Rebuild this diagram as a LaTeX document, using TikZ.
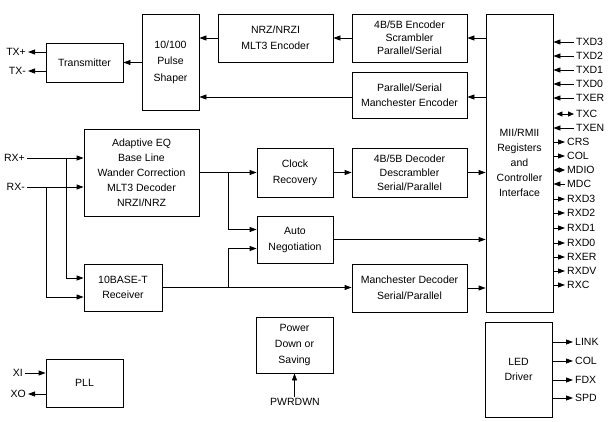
\documentclass[tikz,border=0pt]{standalone}
\usepackage{fontspec}
\setmainfont{Liberation Sans}
\usetikzlibrary{arrows.meta}
\begin{document}
\begin{tikzpicture}[x=1pt,y=-1pt,
  font=\fontsize{10.5}{15}\selectfont,
  box/.style={draw, line width=0.8pt, align=center, inner sep=0pt},
  arr/.style={line width=0.8pt, -{Triangle[length=7pt,width=5pt]}},
  darr/.style={line width=0.8pt, {Triangle[length=6pt,width=5pt]}-{Triangle[length=6pt,width=5pt]}},
  wire/.style={line width=0.8pt},
  lbl/.style={inner xsep=2pt, inner ysep=1pt}]
\useasboundingbox (0,0) rectangle (611,421);

% boxes
\node[box, minimum width=77pt, minimum height=39pt] (tx) at (84.5,62.5) {Transmitter};
\node[box, minimum width=57pt, minimum height=96pt, font=\fontsize{10.5}{16.5}\selectfont] (ps) at (170.5,62) {10/100\\Pulse\\Shaper};
\node[box, minimum width=115pt, minimum height=48pt, font=\fontsize{10.5}{16}\selectfont] (nrz) at (275.5,38) {NRZ/NRZI\\MLT3 Encoder};
\node[box, minimum width=115pt, minimum height=48pt, font=\fontsize{10.5}{13}\selectfont] (enc) at (409.5,38) {4B/5B Encoder\\Scrambler\\Parallel/Serial};
\node[box, minimum width=115pt, minimum height=46pt] (menc) at (409.5,95) {Parallel/Serial\\Manchester Encoder};
\node[box, minimum width=67pt, minimum height=298pt] (mii) at (519.5,163) {MII/RMII\\Registers\\and\\Controller\\Interface};
\node[box, minimum width=115pt, minimum height=87pt] (eq) at (141.5,172.5) {Adaptive EQ\\Base Line\\Wander Correction\\MLT3 Decoder\\NRZI/NRZ};
\node[box, minimum width=76pt, minimum height=49pt, font=\fontsize{10.5}{16}\selectfont] (cr) at (295,172.5) {Clock\\Recovery};
\node[box, minimum width=115pt, minimum height=49pt, font=\fontsize{10.5}{14}\selectfont] (dec) at (409.5,172.5) {4B/5B Decoder\\Descrambler\\Serial/Parallel};
\node[box, minimum width=76pt, minimum height=47pt, font=\fontsize{10.5}{16}\selectfont] (an) at (295,239.5) {Auto\\Negotiation};
\node[box, minimum width=78pt, minimum height=47pt] (bt) at (123,287.5) {10BASE-T\\Receiver};
\node[box, minimum width=115pt, minimum height=48pt, font=\fontsize{10.5}{16}\selectfont] (mdec) at (409.5,288) {Manchester Decoder\\Serial/Parallel};
\node[box, minimum width=77pt, minimum height=56pt, font=\fontsize{10.5}{16}\selectfont] (pd) at (294.5,345) {Power\\Down or\\Saving};
\node[box, minimum width=77pt, minimum height=48pt] (pll) at (84.5,383) {PLL};
\node[box, minimum width=67pt, minimum height=95pt] (led) at (518.5,369.5) {LED\\Driver};

% transmit path
\draw[arr] (mii.west |- enc.east) -- (enc.east);
\draw[arr] ([yshift=-2pt]mii.west |- menc.east) -- ([yshift=-2pt]menc.east);
\draw[arr] (enc.west) -- (nrz.east);
\draw[arr] (nrz.west) -- (nrz.west -| ps.east);
\draw[arr] ([yshift=-2pt]menc.west) -- ([yshift=-2pt]menc.west -| ps.east);
\draw[arr] (ps.west |- tx.east) -- (tx.east);

% TX outputs
\node[lbl, anchor=east] (txp) at (28,52) {TX+};
\node[lbl, anchor=east] (txm) at (28,71) {TX-};
\draw[arr] (tx.west |- txp.east) -- (txp.east);
\draw[arr] (tx.west |- txm.east) -- (txm.east);

% RX inputs
\node[lbl, anchor=east] (rxp) at (27,158) {RX+};
\node[lbl, anchor=east] (rxm) at (27,187) {RX-};
\draw[arr] (rxp.east) -- (rxp.east -| eq.west);
\draw[arr] (rxm.east) -- (rxm.east -| eq.west);
\coordinate (bp) at (66,158);
\coordinate (bm) at (46,187);
\draw[arr] (bp) |- ([yshift=9.5pt]bt.west);
\draw[arr] (bm) |- ([yshift=-9.5pt]bt.west);

% receive path
\draw[arr] (eq.east) -- (cr.west);
\coordinate (b3) at (228,172.5);
\draw[arr] (b3) |- ([yshift=10pt]an.west);
\draw[arr] (bt.east) -- (bt.east -| mdec.west);
\coordinate (b4) at (228,287.5);
\draw[arr] (b4) |- ([yshift=-9pt]an.west);
\draw[arr] (cr.east) -- (dec.west);
\draw[arr] (dec.east) -- (dec.east -| mii.west);
\draw[arr] (an.east) -- (an.east -| mii.west);
\draw[arr] (mdec.east) -- (mdec.east -| mii.west);

% MII pins
\foreach \n/\y/\t in {1/42/TXD3, 2/56/TXD2, 3/70/TXD1, 4/84/TXD0, 5/98/TXER, 7/128/TXEN} {
  \node[lbl, anchor=west] (pin\n) at (574,\y) {\t};
  \draw[arr] (pin\n.west) -- (pin\n.west -| mii.east);
}
\node[lbl, anchor=west] (pin6) at (574,114) {TXC};
\draw[darr] ([xshift=3pt]mii.east |- pin6.west) -- (pin6.west);
\foreach \n/\y/\t in {8/142/CRS, 9/156/COL, 12/199/RXD3, 13/213/RXD2, 14/228/RXD1, 15/243/RXD0, 16/257/RXER, 17/271/RXDV, 18/285/RXC} {
  \node[lbl, anchor=west] (pin\n) at (565,\y) {\t};
  \draw[arr] (mii.east |- pin\n.west) -- (pin\n.west);
}
\node[lbl, anchor=west] (pin10) at (565,170) {MDIO};
\draw[darr] (mii.east |- pin10.west) -- (pin10.west);
\node[lbl, anchor=west] (pin11) at (565,184) {MDC};
\draw[arr] (pin11.west) -- (pin11.west -| mii.east);

% LED pins
\foreach \n/\y/\t in {1/342/LINK, 2/361/COL, 3/380/FDX, 4/398/SPD} {
  \node[lbl, anchor=west] (led\n) at (573,\y) {\t};
  \draw[arr] (led.east |- led\n.west) -- (led\n.west);
}

% power down
\node[lbl] (pwr) at (295,402) {PWRDWN};
\draw[arr] (pwr.north -| pd.south) -- (pd.south);

% PLL
\node[lbl, anchor=east] (xi) at (25,373) {XI};
\node[lbl, anchor=east] (xo) at (28,394) {XO};
\draw[arr] (xi.east) -- (xi.east -| pll.west);
\draw[arr] (pll.west |- xo.east) -- (xo.east);
\end{tikzpicture}
\end{document}
